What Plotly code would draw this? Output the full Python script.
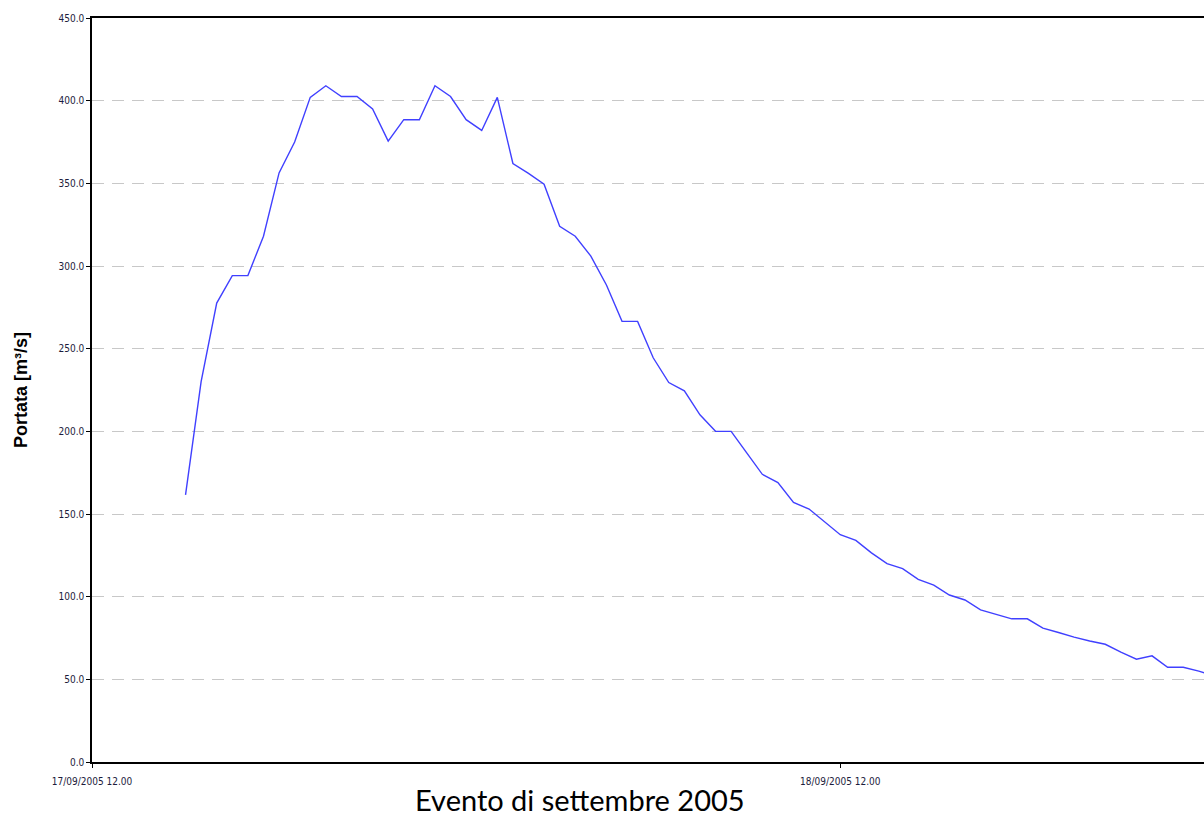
import plotly.graph_objects as go
import pandas as pd

start_time = "2005-09-17 15:00"
portata = [161.6, 230.0, 277.6, 294.2, 294.2, 318.0, 356.3, 375.0, 402.0, 409.0,
           402.5, 402.5, 395.0, 375.5, 388.5, 388.5, 409.0, 402.5, 388.5, 382.0,
           402.0, 362.0, 356.0, 349.5, 324.0, 318.0, 306.0, 288.5, 266.5, 266.5,
           244.5, 229.5, 224.5, 210.0, 200.0, 200.0, 187.0, 174.0, 169.0, 157.0,
           153.0, 145.0, 137.5, 134.0, 126.5, 120.0, 117.0, 110.5, 107.0, 101.0,
           98.0, 92.0, 89.5, 86.6, 86.6, 81.0, 78.3, 75.5, 73.2, 71.2,
           66.4, 62.2, 64.2, 57.3, 57.3, 55.0, 52.0]
times = pd.date_range(start_time, periods=len(portata), freq="30min")

tick_vals = ["2005-09-17 12:00", "2005-09-18 12:00"]
tick_text = ["17/09/2005 12.00", "18/09/2005 12.00"]
x_range = ["2005-09-17 12:00", "2005-09-18 23:40"]
y_ticks = [0, 50, 100, 150, 200, 250, 300, 350, 400, 450]

fig = go.Figure()
fig.add_trace(go.Scatter(x=times, y=portata, mode="lines",
                         line=dict(color="#4040ff", width=1.4),
                         showlegend=False))

tick_font = dict(family="DejaVu Sans Condensed, DejaVu Sans", size=10, color="#1c1c3c")

fig.update_layout(
    width=1204, height=818,
    margin=dict(l=92, r=0, t=18, b=56),
    paper_bgcolor="white", plot_bgcolor="white",
    xaxis=dict(range=x_range, tickvals=tick_vals, ticktext=tick_text,
               showgrid=False, showline=True, linecolor="#000000", linewidth=1.5,
               mirror=True, ticks="outside", ticklen=4, tickcolor="#000000",
               tickfont=tick_font, zeroline=False, ticklabelstandoff=5),
    yaxis=dict(range=[0, 450], tickvals=y_ticks, tickformat=".1f",
               showgrid=True, gridcolor="#c8c8c8", gridwidth=1.2, griddash="12px,8px",
               showline=True, linecolor="#000000", linewidth=1.5,
               ticks="outside", ticklen=4, tickcolor="#000000",
               tickfont=tick_font, zeroline=False,
               title=dict(text="Portata [m³/s]", standoff=26,
                          font=dict(family="Liberation Sans, Arial", size=18, color="#000000",
                                    weight="bold"))),
    annotations=[dict(text="Evento di settembre 2005", x=0.439, xref="paper",
                      y=-0.051, yref="paper", yanchor="middle", showarrow=False,
                      font=dict(family="Lato, Open Sans", size=29, color="#000000"))],
)

fig.write_html("out.html", config={"displayModeBar": False},
               post_script="document.body.style.margin='0';document.body.style.overflow='hidden';")
